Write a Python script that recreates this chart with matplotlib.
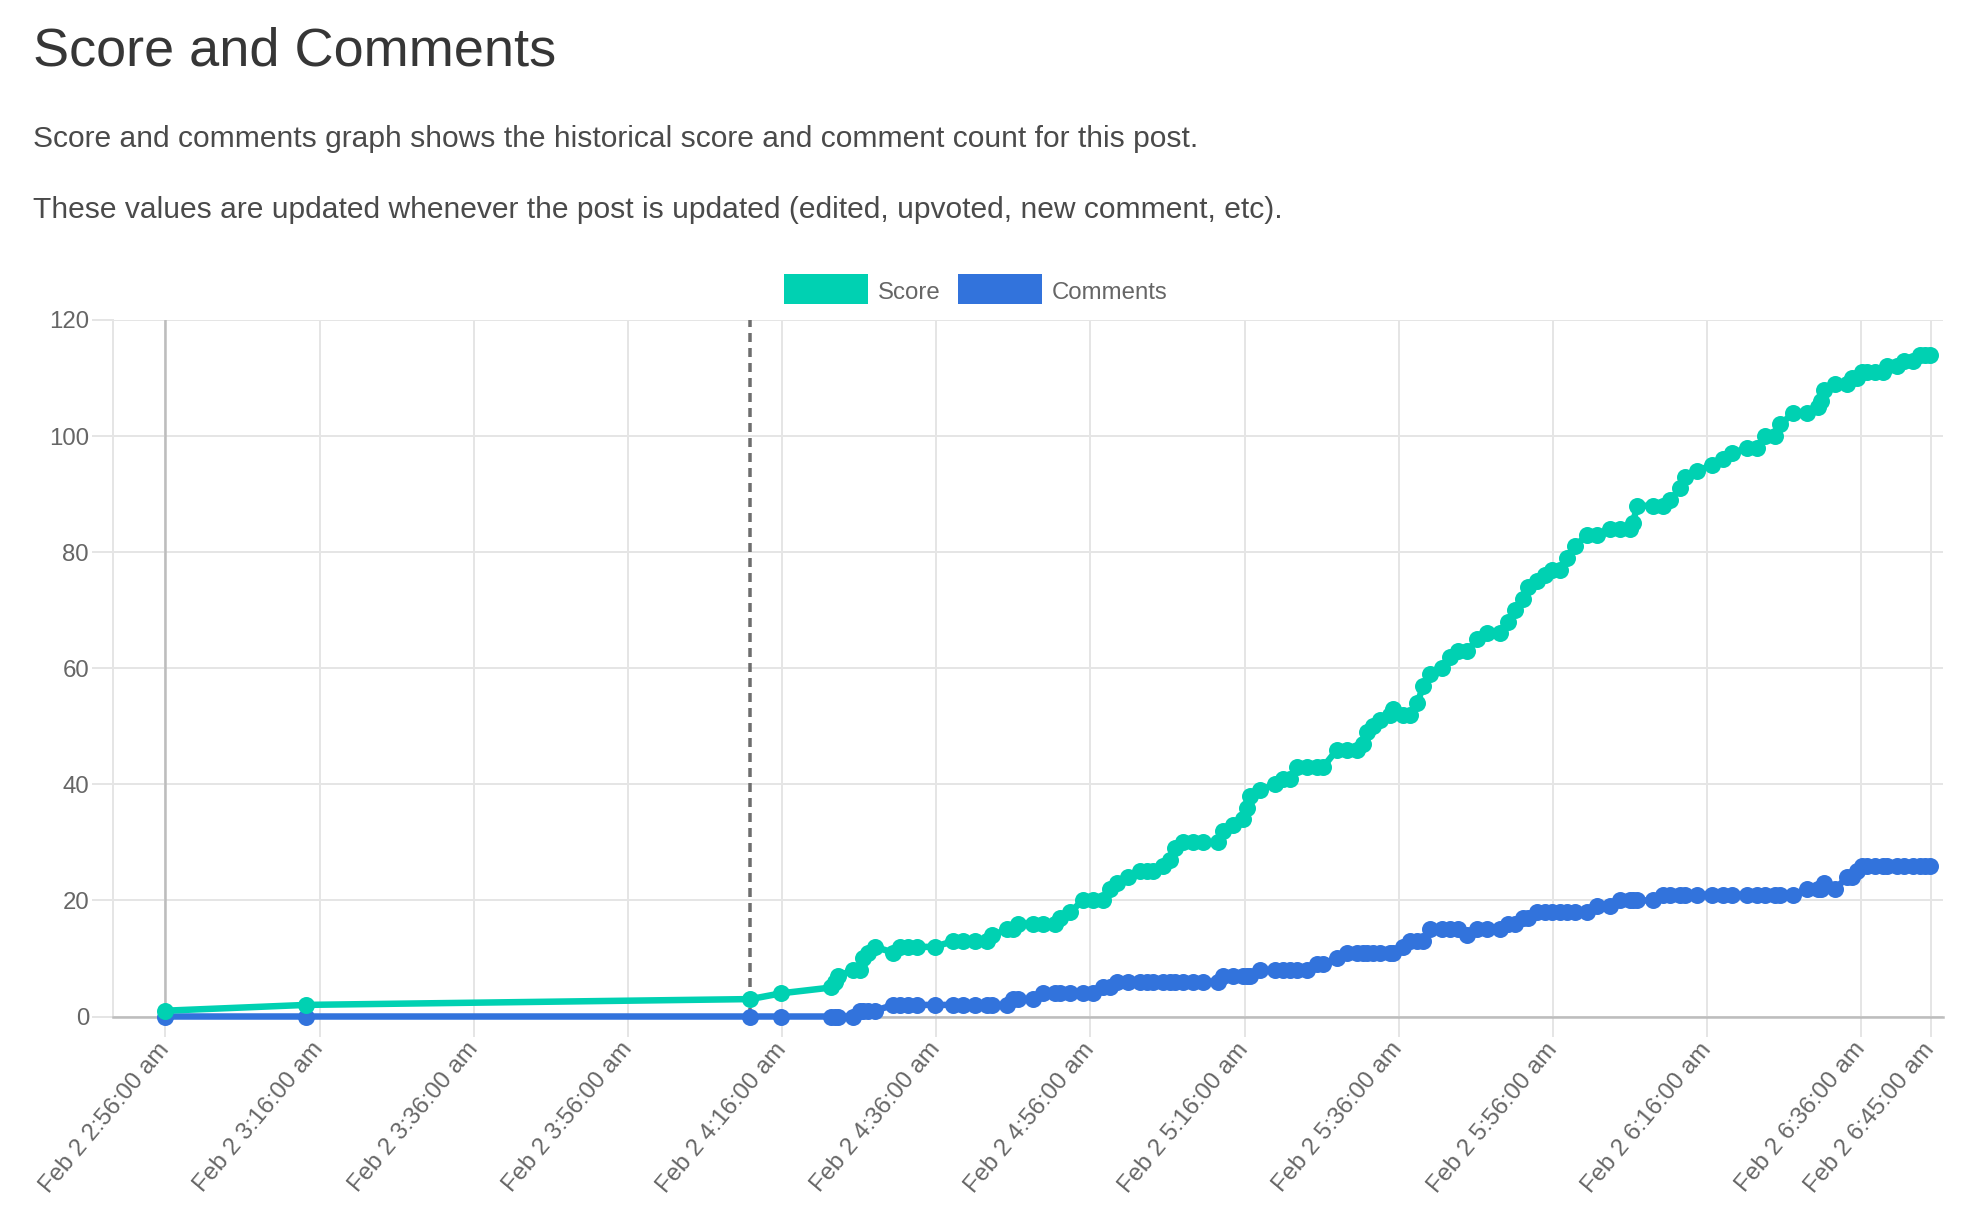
import matplotlib
matplotlib.use("Agg")
import matplotlib.pyplot as plt
from matplotlib.patches import Rectangle

# ---------------- data ----------------
# minutes after Feb 2 2:56:00 am
minutes = [0, 18.3, 75.9, 79.9, 86.4, 86.8, 87.3, 89.2, 90.1, 90.5,
           91.2, 92.1, 94.4, 95.3, 96.3, 97.5, 99.8, 102.2, 103.5, 105.0,
           106.6, 107.2, 109.2, 110.0, 110.6, 112.6, 113.9, 115.4, 116.1, 117.4,
           119.0, 120.3, 121.6, 122.5, 123.5, 124.9, 126.4, 127.3, 128.1, 129.4,
           130.3, 131.0, 132.0, 133.3, 134.6, 136.6, 137.2, 138.5, 139.8, 140.3,
           140.7, 142.0, 143.9, 145.0, 145.9, 146.8, 148.1, 149.4, 150.2, 152.0,
           153.3, 154.6, 155.4, 155.9, 156.7, 157.6, 158.9, 159.3, 160.6, 161.5,
           162.4, 163.2, 164.1, 165.6, 166.7, 167.7, 168.9, 170.2, 171.5, 173.1,
           174.2, 175.1, 176.1, 176.8, 177.9, 179.0, 179.9, 180.9, 181.8, 182.9,
           184.4, 185.7, 187.4, 188.7, 190.0, 190.4, 190.9, 193.0, 194.3, 195.2,
           196.5, 197.1, 198.7, 200.6, 202.1, 203.2, 205.2, 206.5, 207.5, 208.8,
           209.5, 211.2, 213.0, 214.4, 214.8, 215.2, 216.6, 218.2, 218.8, 219.4, 220.1,
           220.8, 221.8, 222.8, 223.3, 224.6, 225.6, 226.7, 227.6, 228.3, 228.9]

score = [1, 2, 3, 4, 5, 6, 7, 8, 8, 10,
         11, 12, 11, 12, 12, 12, 12, 13, 13, 13,
         13, 14, 15, 15, 16, 16, 16, 16, 17, 18,
         20, 20, 20, 22, 23, 24, 25, 25, 25, 26,
         27, 29, 30, 30, 30, 30, 32, 33, 34, 36,
         38, 39, 40, 41, 41, 43, 43, 43, 43, 46,
         46, 46, 47, 49, 50, 51, 52, 53, 52, 52,
         54, 57, 59, 60, 62, 63, 63, 65, 66, 66,
         68, 70, 72, 74, 75, 76, 77, 77, 79, 81,
         83, 83, 84, 84, 84, 85, 88, 88, 88, 89,
         91, 93, 94, 95, 96, 97, 98, 98, 100, 100,
         102, 104, 104, 105, 106, 108, 109, 109, 110, 110, 111,
         111, 111, 111, 112, 112, 113, 113, 114, 114, 114]

comments = [0, 0, 0, 0, 0, 0, 0, 0, 1, 1,
            1, 1, 2, 2, 2, 2, 2, 2, 2, 2,
            2, 2, 2, 3, 3, 3, 4, 4, 4, 4,
            4, 4, 5, 5, 6, 6, 6, 6, 6, 6,
            6, 6, 6, 6, 6, 6, 7, 7, 7, 7,
            7, 8, 8, 8, 8, 8, 8, 9, 9, 10,
            11, 11, 11, 11, 11, 11, 11, 11, 12, 13,
            13, 13, 15, 15, 15, 15, 14, 15, 15, 15,
            16, 16, 17, 17, 18, 18, 18, 18, 18, 18,
            18, 19, 19, 20, 20, 20, 20, 20, 21, 21,
            21, 21, 21, 21, 21, 21, 21, 21, 21, 21,
            21, 21, 22, 22, 22, 23, 22, 24, 24, 25, 26,
            26, 26, 26, 26, 26, 26, 26, 26, 26, 26]

series_names = ["Score", "Comments"]
tick_minutes = [0, 20, 40, 60, 80, 100, 120, 140, 160, 180, 200, 220, 229]
tick_labels = ["Feb 2 2:56:00 am", "Feb 2 3:16:00 am", "Feb 2 3:36:00 am",
               "Feb 2 3:56:00 am", "Feb 2 4:16:00 am", "Feb 2 4:36:00 am",
               "Feb 2 4:56:00 am", "Feb 2 5:16:00 am", "Feb 2 5:36:00 am",
               "Feb 2 5:56:00 am", "Feb 2 6:16:00 am", "Feb 2 6:36:00 am",
               "Feb 2 6:45:00 am"]
y_ticks = [0, 20, 40, 60, 80, 100, 120]
marker_minute = 75.9

title = "Score and Comments"
para1 = "Score and comments graph shows the historical score and comment count for this post."
para2 = "These values are updated whenever the post is updated (edited, upvoted, new comment, etc)."

# ---------------- style ----------------
W, H, DPI = 1976, 1216, 100
def pt(p):  # device pixels -> points
    return p * 72.0 / DPI

plt.rcParams['font.family'] = ['Liberation Sans', 'DejaVu Sans']
plt.rcParams['lines.scale_dashes'] = False

TEAL = '#00d1b2'
BLUE = '#3273dc'
GRID = '#e5e5e5'
ZERO = '#bdbdbd'
TXT = '#666666'

fig = plt.figure(figsize=(W / DPI, H / DPI), dpi=DPI)
fig.patch.set_facecolor('white')

left, right, top, bottom = 113, 1943, 320, 1016.5
ax = fig.add_axes([left / W, 1 - bottom / H, (right - left) / W, (bottom - top) / H])
ax.set_xlim(-6.8, 230.6)
ax.set_ylim(0, 120)

ax.set_xticks(tick_minutes)
ax.set_xticklabels(tick_labels, rotation=50, ha='right', va='center',
                   rotation_mode='anchor')
ax.set_yticks(y_ticks)
ax.set_yticklabels([str(v) for v in y_ticks])

ax.grid(True, color=GRID, lw=pt(2), zorder=0)
ax.set_axisbelow(True)
for s in ['top', 'right']:
    ax.spines[s].set_visible(False)
ax.spines['left'].set_color(GRID)
ax.spines['left'].set_linewidth(pt(2))
ax.spines['bottom'].set_color(ZERO)
ax.spines['bottom'].set_linewidth(pt(2.5))

ax.tick_params(axis='y', length=pt(21), width=pt(2), color=GRID, pad=pt(3),
               labelsize=pt(24), labelcolor=TXT)
ax.tick_params(axis='x', length=pt(20), width=pt(2), color=GRID, pad=pt(9),
               labelsize=pt(24), labelcolor=TXT)
ax.xaxis.get_major_ticks()[0].tick1line.set_color(ZERO)
ax.yaxis.get_major_ticks()[0].tick1line.set_color(ZERO)

# zero line of the time axis
ax.axvline(0, color=ZERO, lw=pt(2.5), zorder=1)

# dashed marker line
ax.axvline(marker_minute, color='#6e6e6e', lw=pt(3.5), dashes=(pt(9), pt(6)), zorder=2)

ax.plot(minutes, comments, color=BLUE, lw=pt(6.5), marker='o', ms=pt(17),
        mew=0, clip_on=False, zorder=3, solid_joinstyle='round')
ax.plot(minutes, score, color=TEAL, lw=pt(6.5), marker='o', ms=pt(17),
        mew=0, clip_on=False, zorder=4, solid_joinstyle='round')

# legend (chart.js style, centred above the plot)
leg = [(784, TEAL, series_names[0]), (958, BLUE, series_names[1])]
for x0, c, name in leg:
    fig.add_artist(Rectangle((x0 / W, 1 - 304 / H), 84 / W, 30 / H,
                             transform=fig.transFigure, facecolor=c,
                             edgecolor='none'))
    fig.text((x0 + 94) / W, 1 - 293 / H, name, fontsize=pt(24), color=TXT,
             ha='left', va='center')

# page texts, fitted to width
renderer = fig.canvas.get_renderer()
def fit_text(x, y_base, s, target_w, size, color):
    t = fig.text(x / W, 1 - y_base / H, s, fontsize=size, color=color,
                 ha='left', va='baseline')
    w = t.get_window_extent(renderer).width
    t.set_fontsize(size * target_w / w)
    return t

fit_text(33, 66, title, 523, 40, '#363636')
fit_text(33, 147, para1, 1162, 20, '#4a4a4a')
fit_text(33, 218, para2, 1244, 20, '#4a4a4a')

fig.savefig('out.png', dpi=DPI, facecolor='white')
